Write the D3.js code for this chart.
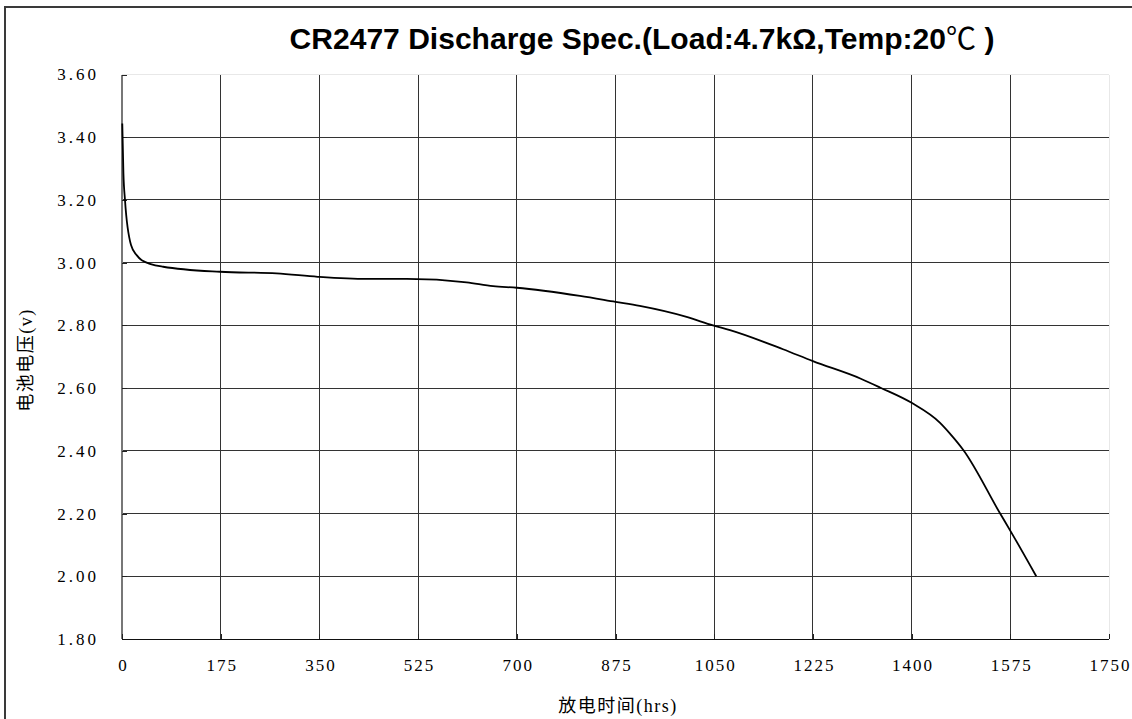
<!DOCTYPE html>
<html lang="zh">
<head>
<meta charset="UTF-8">
<title>CR2477 Discharge</title>
<script src="https://d3js.org/d3.v7.min.js"></script>
<style>
    html, body { margin: 0; padding: 0; background: #fff; overflow: hidden; }
    svg { display: block; }
    .axis-title { font-family: "Liberation Serif", "Noto Sans CJK SC", serif; font-size: 18px; letter-spacing: 1.5px; fill: #000; }
    .chart-title { font-family: "Liberation Sans", Arial, sans-serif; font-weight: bold; fill: #000; }
</style>
</head>
<body>
<svg width="1132" height="719"></svg>
<script>
    // discharge curve (hours, volts)
    const hours = [0.5, 2.5, 5.3, 16, 26, 35, 73, 174, 274, 347, 434, 505, 611, 658, 700, 812, 875, 918, 1001, 1048, 1078, 1172, 1225, 1310, 1344, 1400, 1450, 1468, 1492, 1557, 1578, 1621];
    const volts = [3.444, 3.285, 3.20, 3.056, 3.024, 3.008, 2.987, 2.971, 2.966, 2.955, 2.948, 2.948, 2.937, 2.925, 2.920, 2.894, 2.875, 2.862, 2.827, 2.800, 2.785, 2.724, 2.686, 2.630, 2.602, 2.553, 2.49, 2.455, 2.402, 2.20, 2.136, 2.00];

    const xTicks = [0, 175, 350, 525, 700, 875, 1050, 1225, 1400, 1575, 1750];
    const yTicks = [1.80, 2.00, 2.20, 2.40, 2.60, 2.80, 3.00, 3.20, 3.40, 3.60];

    const titleMain = "CR2477 Discharge Spec.(Load:4.7kΩ,Temp:20";
    const titleUnit = "℃";
    const titleEnd = " )";
    const xTitle = "放电时间(hrs)";
    const yTitle = "电池电压(v)";

    const svg = d3.select("svg");
    const mLeft = 122, mRight = 1109, mTop = 74.5, mBottom = 639;

    const x = d3.scaleLinear().domain([0, 1750]).range([mLeft, mRight]);
    const y = d3.scaleLinear().domain([1.8, 3.6]).range([mBottom, mTop]);

    // outer frame (only top and left edges are inside the picture)
    svg.append("path")
        .attr("d", "M5,719 L5,7 L1132,7")
        .attr("fill", "none").attr("stroke", "#3a3a3a").attr("stroke-width", 2);

    // grid
    const grid = svg.append("g").attr("shape-rendering", "crispEdges");
    grid.selectAll(".hg").data(yTicks).enter().append("line")
        .attr("x1", mLeft).attr("x2", mRight)
        .attr("y1", d => y(d)).attr("y2", d => y(d))
        .attr("stroke", d => d === 3.6 ? "#e8e8e8" : "#333");
    grid.selectAll(".vg").data(xTicks).enter().append("line")
        .attr("y1", mTop).attr("y2", mBottom)
        .attr("x1", d => x(d)).attr("x2", d => x(d))
        .attr("stroke", d => d === 1750 ? "#e8e8e8" : (d === 0 ? "#777" : "#333"))
        .attr("stroke-width", d => d === 0 ? 2 : 1);

    // axes with small inward ticks
    const xAxis = svg.append("g")
        .attr("transform", `translate(0,${mBottom})`)
        .call(d3.axisBottom(x).tickValues(xTicks).tickSize(-5).tickPadding(20).tickFormat(d3.format("d")));
    const yAxis = svg.append("g")
        .attr("transform", `translate(${mLeft},0)`)
        .call(d3.axisLeft(y).tickValues(yTicks).tickSize(-5).tickPadding(23).tickFormat(d3.format(".2f")));
    [xAxis, yAxis].forEach(a => {
        a.attr("font-family", "Liberation Serif").attr("font-size", 17);
        a.select(".domain").remove();
        a.selectAll(".tick line").attr("stroke", "#222").attr("shape-rendering", "crispEdges");
        a.selectAll("text").attr("fill", "#000")
            .style("font-family", "'Liberation Serif', serif")
            .style("font-weight", "normal");
    });
    xAxis.selectAll("text").style("letter-spacing", "2px").attr("dx", "1px");
    yAxis.selectAll("text").style("letter-spacing", "3px");
    svg.append("line")
        .attr("x1", mLeft).attr("x2", mRight).attr("y1", mBottom).attr("y2", mBottom)
        .attr("stroke", "#111").attr("shape-rendering", "crispEdges");

    // curve
    const line = d3.line().x(d => x(d[0])).y(d => y(d[1])).curve(d3.curveMonotoneX);
    svg.append("path")
        .datum(hours.map((h, i) => [h, volts[i]]))
        .attr("d", line)
        .attr("fill", "none").attr("stroke", "#000").attr("stroke-width", 1.8);

    // title, scaled to span the same width as the reference
    const t = svg.append("text").attr("class", "chart-title")
        .attr("x", 642).attr("y", 49).attr("text-anchor", "middle")
        .attr("font-size", 100);
    t.append("tspan").text(titleMain);
    t.append("tspan").style("font-family", "'Noto Sans CJK SC', sans-serif").style("font-weight", "normal").text(titleUnit);
    t.append("tspan").text(titleEnd);
    const w = t.node().getComputedTextLength();
    t.attr("font-size", 100 * 705 / w);

    svg.append("text").attr("class", "axis-title")
        .attr("x", 618).attr("y", 712).attr("text-anchor", "middle").text(xTitle);
    svg.append("text").attr("class", "axis-title")
        .attr("transform", "translate(32,360) rotate(-90)")
        .attr("text-anchor", "middle").text(yTitle);
</script>
</body>
</html>
